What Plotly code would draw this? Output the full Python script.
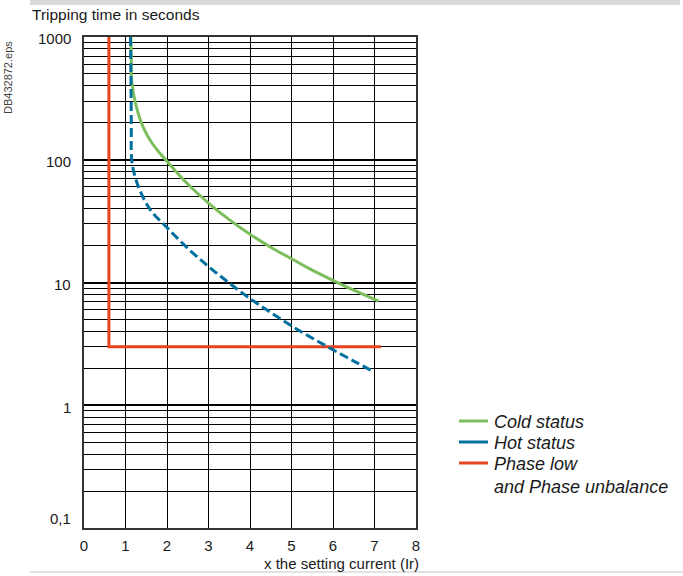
import plotly.graph_objects as go
import numpy as np

# ---------------- data ----------------
cold_x = [1.13, 1.14, 1.15, 1.25, 1.43, 1.65, 1.84, 2.0, 2.5, 3.0, 3.5, 4.0, 4.5, 5.0, 5.5, 6.0, 6.5, 7.1]
cold_y = [1000, 700, 440, 280, 183, 135, 112, 97, 63.4, 44.4, 32.5, 24.7, 19.4, 15.6, 12.6, 10.4, 8.65, 7.05]

hot_x = [1.12, 1.13, 1.14, 1.15, 1.22, 1.35, 1.6, 2.0, 2.5, 3.0, 3.5, 4.0, 4.5, 5.0, 5.5, 6.0, 6.5, 6.95]
hot_y = [1000, 500, 200, 100, 75, 56, 39, 28, 19.0, 13.5, 9.9, 7.4, 5.7, 4.43, 3.52, 2.83, 2.29, 1.9]

phase_x = [0.6, 0.6, 7.15]
phase_y = [1000, 3, 3]

series_names = ["Cold status", "Hot status", "Phase low<br>and Phase unbalance"]
series_colors = ["#7cbd5c", "#00709f", "#e8421e"]

x_ticks = [0, 1, 2, 3, 4, 5, 6, 7, 8]
y_tick_vals = [1000, 100, 10, 1, 0.1]
y_tick_text = ["1000", "100", "10", "1", "0,1"]
y_label_shift = [-1, -2, -2, -2, 10]

FONT = "Liberation Sans, Arial, sans-serif"
TXT = "#1a1a1a"

fig = go.Figure()

fig.add_trace(go.Scatter(x=phase_x, y=phase_y, mode="lines", name=series_names[2],
                         line=dict(color=series_colors[2], width=3), showlegend=False))
fig.add_trace(go.Scatter(x=cold_x, y=cold_y, mode="lines", line_shape="spline", name=series_names[0],
                         line=dict(color=series_colors[0], width=3), showlegend=False))
fig.add_trace(go.Scatter(x=hot_x, y=hot_y, mode="lines", line_shape="spline", name=series_names[1],
                         line=dict(color=series_colors[1], width=3, dash="9px,4px"), showlegend=False))

W, H = 683, 576
L, R, T, B = 84, 267, 37, 48
pw, ph = W - L - R, H - T - B

def px(xp):
    return (xp - L) / pw

def py(yp):
    return (H - B - yp) / ph

annotations = []
shapes = []
for v, t, s in zip(y_tick_vals, y_tick_text, y_label_shift):
    annotations.append(dict(x=px(73), xref="paper", y=np.log10(v), yref="y",
                            text=t, showarrow=False, xanchor="right", yanchor="middle",
                            yshift=s, font=dict(family=FONT, size=15, color=TXT)))

annotations.append(dict(x=px(30), xref="paper", y=py(15), yref="paper",
                        text="Tripping time in seconds", showarrow=False,
                        xanchor="left", yanchor="middle",
                        font=dict(family=FONT, size=15.5, color=TXT)))
annotations.append(dict(x=px(421), xref="paper", y=py(563), yref="paper",
                        text="x the setting current (Ir)", showarrow=False,
                        xanchor="right", yanchor="middle",
                        font=dict(family=FONT, size=15, color=TXT)))
annotations.append(dict(x=px(8), xref="paper", y=py(78), yref="paper",
                        text="DB432872.eps", showarrow=False, textangle=-90,
                        xanchor="center", yanchor="middle",
                        font=dict(family=FONT, size=11, color="#444")))

# legend (swatch + italic label per series)
leg_rows = [421, 442, 463]
for name, col, ry in zip(series_names, series_colors, leg_rows):
    shapes.append(dict(type="line", xref="paper", yref="paper",
                       x0=px(459), x1=px(488), y0=py(ry), y1=py(ry),
                       line=dict(color=col, width=3)))
    annotations.append(dict(x=px(492), xref="paper", y=py(ry - 11.5), yref="paper",
                            text="<i>" + name + "</i>", showarrow=False,
                            xanchor="left", yanchor="top", align="left",
                            font=dict(family=FONT, size=18, color=TXT)))

shapes += [
    dict(type="rect", xref="paper", yref="paper", x0=px(30), x1=px(680),
         y0=py(5), y1=py(0), fillcolor="#d9d9d9", line_width=0, layer="above"),
    dict(type="line", xref="paper", yref="paper", x0=px(30), x1=px(683),
         y0=py(572), y1=py(572), line=dict(color="#d9d9d9", width=1.5), layer="above"),
]

fig.update_layout(
    width=W, height=H,
    margin=dict(l=L, r=R, t=T, b=B),
    paper_bgcolor="white", plot_bgcolor="white",
    font=dict(family=FONT, size=15, color=TXT),
    annotations=annotations, shapes=shapes,
    showlegend=False,
    xaxis=dict(range=[0, 8], tickvals=x_ticks, ticktext=[str(v) for v in x_ticks],
               showgrid=True, gridcolor="black", gridwidth=1,
               showline=True, linecolor="#333", linewidth=2, mirror=True,
               ticks="", ticklabelstandoff=3, zeroline=False,
               tickfont=dict(family=FONT, size=15, color=TXT)),
    yaxis=dict(type="log", range=[-1, 3], tickvals=y_tick_vals,
               showticklabels=False, showgrid=True, gridcolor="black", gridwidth=2,
               minor=dict(dtick="D1", showgrid=True, gridcolor="black", gridwidth=1, ticks=""),
               showline=True, linecolor="#333", linewidth=2, mirror=True,
               ticks="", zeroline=False),
)

fig.write_html("out.html", config={"displayModeBar": False},
               post_script="document.body.style.margin='0px';")
